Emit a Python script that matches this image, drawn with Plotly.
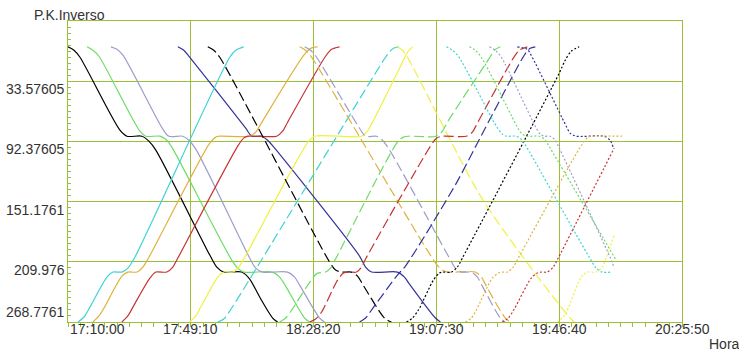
import plotly.graph_objects as go

DAY = "2000-01-01 "

X_TICKS = ["17:10:00", "17:49:10", "18:28:20", "19:07:30", "19:46:40", "20:25:50"]
Y_TICKS = [33.57605, 92.37605, 151.1761, 209.976, 268.7761]
Y_LABELS = ["33.57605", "92.37605", "151.1761", "209.976", "268.7761"]
Y_TOP = -25.22395

# ---- solid group ----
black_t = ["17:10:00", "17:11:55", "17:13:49", "17:26:34", "17:28:47", "17:33:34", "17:35:48", "17:38:01", "17:55:13", "17:57:27", "17:59:41", "18:05:24", "18:07:57", "18:11:08", "18:15:17", "18:16:52"]
black_pk = [0, 3.3, 10.2, 81.4, 87.3, 87.3, 92.1, 100.9, 203.4, 215.1, 220, 220, 226.8, 244.4, 264.9, 268.78]

green_t = ["17:16:03", "17:17:58", "17:19:52", "17:32:56", "17:34:50", "17:39:18", "17:41:31", "17:43:07", "18:02:13", "18:04:08", "18:06:03", "18:15:17", "18:17:30", "18:19:25", "18:25:28", "18:27:04"]
green_pk = [0, 3.3, 9.2, 82.4, 87.3, 87.3, 91.2, 98.0, 208.3, 216.1, 220, 220, 224.9, 233.7, 264.9, 268.78]

lav_t = ["17:23:42", "17:25:36", "17:27:31", "17:40:15", "17:42:10", "17:46:37", "17:48:32", "17:50:46", "18:07:57", "18:09:52", "18:12:06", "18:20:03", "18:22:17", "18:23:53", "18:30:15", "18:31:50"]
lav_pk = [0, 2.4, 8.2, 80.4, 87.3, 87.3, 91.2, 99.9, 206.3, 216.1, 220, 220, 224.9, 232.7, 264.9, 268.78]

navy_t = ["17:45:02", "17:46:56", "17:48:51", "18:06:41", "18:08:36", "18:11:47", "18:13:41", "18:15:55", "18:42:59", "18:44:54", "18:46:48", "18:55:05", "18:57:19", "18:58:54", "19:07:11", "19:08:47"]
navy_pk = [0, 3.3, 10.2, 79.5, 87.3, 87.3, 91.2, 99.0, 204.4, 215.1, 220, 220, 224.9, 231.7, 264.9, 268.78]

blackd_t = ["17:54:35", "17:56:30", "17:58:24", "18:33:26", "18:35:20", "18:37:15", "18:40:26", "18:42:21", "18:43:56", "18:50:57", "18:53:10"]
blackd_pk = [0, 3.3, 10.2, 210.2, 218.0, 220, 220, 223.9, 231.7, 264.9, 268.78]

cyan_t = ["17:13:11", "17:15:06", "17:17:00", "17:22:25", "17:24:20", "17:27:12", "17:29:06", "17:31:01", "18:01:35", "18:03:30", "18:06:03"]
cyan_pk = [268.78, 263.9, 254.2, 224.9, 220, 220, 216.1, 207.3, 10.2, 3.3, 0]

gold_t = ["17:17:58", "17:19:52", "17:21:28", "17:27:12", "17:29:06", "17:31:58", "17:33:53", "17:35:29", "17:55:13", "17:57:08", "17:58:24", "18:07:57", "18:09:52", "18:11:28", "18:25:28", "18:27:42", "18:29:37"]
gold_pk = [268.78, 262.9, 255.2, 223.9, 220, 220, 215.1, 207.3, 94.1, 88.2, 87.3, 87.3, 83.4, 75.5, 7.2, 1.0, 0]

red_t = ["17:27:12", "17:29:06", "17:30:42", "17:36:07", "17:38:01", "17:41:31", "17:43:26", "17:45:02", "18:04:08", "18:06:03", "18:07:19", "18:16:33", "18:18:28", "18:20:03", "18:32:09", "18:34:04", "18:36:37"]
red_pk = [268.78, 262.9, 254.2, 225.9, 220, 220, 215.1, 206.3, 97.0, 89.2, 87.3, 87.3, 82.4, 73.6, 9.2, 2.4, 0]

yellow_t = ["17:48:51", "17:50:46", "17:52:21", "17:57:46", "17:59:41", "18:02:33", "18:04:27", "18:06:03", "18:26:45", "18:28:39", "18:43:37", "18:45:32", "18:47:07", "18:56:41", "18:58:16", "18:59:52"]
yellow_pk = [268.78, 262.9, 254.2, 224.9, 220, 220, 215.1, 207.3, 92.1, 87.3, 87.3, 82.4, 73.6, 15.0, 5.3, 0]

# ---- dashed group ----
cyand_t = ["17:57:46", "17:59:41", "18:01:35", "18:50:38", "18:52:13", "18:53:49", "18:55:43"]
cyand_pk = [268.78, 265.9, 258.1, 13.1, 6.2, 1.4, 0]

goldd_t = ["18:23:53", "18:25:47", "18:27:42", "19:07:30", "19:09:25", "19:11:00", "19:19:55", "19:21:50", "19:23:25", "19:29:28", "19:31:04"]
goldd_pk = [0, 3.3, 10.2, 212.2, 218.0, 220, 220, 224.9, 233.7, 264.9, 268.78]

lavd_t = ["18:25:28", "18:27:23", "18:29:17", "18:42:59", "18:44:54", "18:48:24", "18:50:18", "18:52:13", "19:11:39", "19:13:33", "19:15:28", "19:18:39", "19:20:34", "19:22:09", "19:27:53", "19:29:28"]
lavd_pk = [0, 3.3, 10.2, 79.5, 87.3, 87.3, 91.2, 99.0, 206.3, 216.1, 220, 220, 224.9, 233.7, 264.9, 268.78]

yellowd_t = ["18:55:05", "18:56:41", "18:58:16", "19:21:12", "19:33:56", "19:49:51", "19:51:27"]
yellowd_pk = [0, 3.3, 10.2, 143.9, 200.5, 263.9, 268.78]

greend_t = ["18:17:30", "18:19:25", "18:21:20", "18:28:01", "18:29:37", "18:32:09", "18:33:45", "18:35:20", "18:55:05", "18:57:00", "18:58:54", "19:07:30", "19:09:25", "19:11:00", "19:24:23", "19:25:58", "19:27:53"]
greend_pk = [268.78, 264.9, 257.1, 225.9, 221.0, 220, 216.1, 207.3, 93.1, 88.2, 87.3, 87.3, 82.4, 73.6, 11.1, 3.3, 0]

redd_t = ["18:27:04", "18:28:58", "18:30:53", "18:35:59", "18:37:53", "18:39:48", "18:42:02", "18:43:37", "18:44:54", "19:05:36", "19:07:30", "19:09:25", "19:17:03", "19:18:58", "19:20:33", "19:32:01", "19:33:56", "19:36:29"]
redd_pk = [268.78, 265.9, 259.0, 227.8, 221.0, 220, 220, 215.1, 207.3, 97.0, 89.2, 87.3, 87.3, 83.4, 74.6, 11.1, 3.3, 0]

navyd_t = ["18:42:59", "18:44:54", "18:46:48", "18:55:05", "18:57:38", "19:13:52", "19:20:33", "19:34:34", "19:36:10", "19:37:26", "19:39:02"]
navyd_pk = [268.78, 264.9, 257.1, 222.9, 214.1, 133.1, 94.1, 13.1, 5.3, 1.4, 0]

# ---- dotted group ----
blackdot_t = ["18:57:57", "18:59:52", "19:01:46", "19:06:33", "19:08:27", "19:09:44", "19:12:17", "19:14:11", "19:15:47", "19:46:40", "19:48:35", "19:50:29", "19:53:02"]
blackdot_pk = [268.78, 264.9, 257.1, 227.8, 221.0, 220, 220, 215.1, 206.3, 25.8, 13.1, 4.3, 0]

cyandot_t = ["19:10:41", "19:12:36", "19:14:30", "19:26:37", "19:28:31", "19:29:48", "19:32:59", "19:34:53", "19:36:29", "19:56:13", "19:58:27", "20:00:22", "20:03:33"]
cyandot_pk = [0, 3.3, 9.2, 77.5, 85.3, 87.3, 87.3, 91.2, 99.0, 205.4, 216.1, 220, 220]

greendot_t = ["19:18:01", "19:19:55", "19:21:50", "19:32:40", "19:34:34", "19:36:10", "19:40:18", "19:42:13", "19:43:48", "20:04:49"]
greendot_pk = [0, 3.3, 10.2, 74.6, 84.3, 87.3, 87.3, 91.2, 99.0, 208.3]

lavdot_t = ["19:24:23", "19:26:17", "19:28:12", "19:39:02", "19:40:37", "19:41:54", "19:43:48", "19:45:24", "19:46:59", "20:03:33", "20:04:11"]
lavdot_pk = [0, 3.3, 10.2, 77.5, 85.3, 87.3, 87.3, 91.2, 100.9, 210.2, 216.1]

navydot_t = ["19:33:18", "19:36:29", "19:38:04", "19:48:35", "19:50:10", "19:52:05", "20:01:00", "20:02:55", "20:03:52"]
navydot_pk = [0, 2.4, 10.2, 75.5, 84.3, 87.3, 87.3, 91.2, 98.0]

reddot_t = ["19:28:31", "19:30:26", "19:32:20", "19:37:45", "19:39:40", "19:40:56", "19:42:51", "19:44:46", "19:46:21", "20:04:11"]
reddot_pk = [268.78, 264.9, 256.1, 225.9, 221.0, 220, 220, 215.1, 206.3, 99.0]

yellowdot_t = ["19:46:02", "19:47:57", "19:49:32", "19:53:41", "19:55:35", "19:58:27", "20:00:22", "20:01:38", "20:04:11"]
yellowdot_pk = [268.78, 263.9, 255.2, 224.9, 220, 220, 215.1, 206.3, 183.9]

golddot_t = ["19:16:44", "19:18:39", "19:20:14", "19:25:20", "19:27:15", "19:28:31", "19:30:07", "19:32:01", "19:33:37", "19:54:00", "19:55:54", "19:57:11", "20:06:44"]
golddot_pk = [268.78, 264.9, 257.1, 225.9, 221.0, 220, 220, 215.1, 206.3, 95.1, 88.2, 87.3, 87.3]

BLACK = "#000000"
GREEN = "#6ddc66"
LAV = "#9d9dcc"
NAVY = "#333399"
CYAN = "#3fd3d3"
GOLD = "#e0b23c"
RED = "#c63333"
YELLOW = "#f0f040"
GRID = "#9cbf3a"

SOLID = "solid"
DASH = "10px,4px"
DOT = "2px,2px"

trains = [
    (black_t, black_pk, BLACK, SOLID),
    (green_t, green_pk, GREEN, SOLID),
    (lav_t, lav_pk, LAV, SOLID),
    (navy_t, navy_pk, NAVY, SOLID),
    (cyan_t, cyan_pk, CYAN, SOLID),
    (gold_t, gold_pk, GOLD, SOLID),
    (red_t, red_pk, RED, SOLID),
    (yellow_t, yellow_pk, YELLOW, SOLID),
    (blackd_t, blackd_pk, BLACK, DASH),
    (cyand_t, cyand_pk, CYAN, DASH),
    (goldd_t, goldd_pk, GOLD, DASH),
    (lavd_t, lavd_pk, LAV, DASH),
    (yellowd_t, yellowd_pk, YELLOW, DASH),
    (greend_t, greend_pk, GREEN, DASH),
    (redd_t, redd_pk, RED, DASH),
    (navyd_t, navyd_pk, NAVY, DASH),
    (blackdot_t, blackdot_pk, BLACK, DOT),
    (cyandot_t, cyandot_pk, CYAN, DOT),
    (greendot_t, greendot_pk, GREEN, DOT),
    (lavdot_t, lavdot_pk, LAV, DOT),
    (navydot_t, navydot_pk, NAVY, DOT),
    (reddot_t, reddot_pk, RED, DOT),
    (yellowdot_t, yellowdot_pk, YELLOW, DOT),
    (golddot_t, golddot_pk, GOLD, DOT),
]

fig = go.Figure()
for t, pk, col, dash in trains:
    fig.add_trace(go.Scatter(
        x=[DAY + s for s in t], y=pk, mode="lines",
        line=dict(color=col, width=1.2, dash=dash, shape="spline", smoothing=0.8),
        showlegend=False, hoverinfo="skip",
    ))

FONT = "Liberation Sans, Arial, sans-serif"
TXT = "#333333"

annotations = []
for i, lab in enumerate(X_TICKS):
    annotations.append(dict(
        x=DAY + lab, y=0, xref="x", yref="paper", text=lab, showarrow=False,
        xanchor="left" if i == 0 else "center", yanchor="top", yshift=3,
        font=dict(family=FONT, size=14, color=TXT),
    ))
for i, (v, lab) in enumerate(zip(Y_TICKS, Y_LABELS)):
    last = i == len(Y_TICKS) - 1
    annotations.append(dict(
        x=0, y=v, xref="paper", yref="y", text=lab, showarrow=False,
        xanchor="right", yanchor="bottom" if last else "top", xshift=-1,
        yshift=0 if last else 2,
        font=dict(family=FONT, size=14, color=TXT),
    ))
annotations.append(dict(x=0, y=1, xref="paper", yref="paper", text="P.K.Inverso",
                        showarrow=False, xanchor="left", yanchor="middle",
                        xshift=-36, yshift=6, font=dict(family=FONT, size=14, color=TXT)))
annotations.append(dict(x=1, y=0, xref="paper", yref="paper", text="Hora",
                        showarrow=False, xanchor="left", yanchor="middle",
                        xshift=25, yshift=-22, font=dict(family=FONT, size=14, color=TXT)))

fig.update_layout(
    width=739, height=353,
    margin=dict(l=68, r=57, t=21, b=31),
    paper_bgcolor="white", plot_bgcolor="white",
    annotations=annotations,
    xaxis=dict(
        type="date",
        range=[DAY + X_TICKS[0], DAY + X_TICKS[-1]],
        tick0=DAY + X_TICKS[0], dtick=2350000,
        showticklabels=False,
        showgrid=True, gridcolor=GRID, gridwidth=1,
        showline=True, linecolor=GRID, linewidth=1, mirror=True,
        ticks="outside", ticklen=4, tickcolor=GRID,
        minor=dict(dtick=235000, tick0=DAY + X_TICKS[0], ticks="outside", ticklen=4,
                   tickcolor=GRID, showgrid=False),
        zeroline=False,
    ),
    yaxis=dict(
        range=[Y_TICKS[-1], Y_TOP],
        tickmode="array", tickvals=Y_TICKS,
        showticklabels=False,
        showgrid=True, gridcolor=GRID, gridwidth=1,
        showline=True, linecolor=GRID, linewidth=1, mirror=True,
        ticks="inside", ticklen=3, tickcolor=GRID,
        minor=dict(dtick=5.88, tick0=Y_TICKS[0], ticks="inside", ticklen=3,
                   tickcolor=GRID, showgrid=False),
        zeroline=False,
    ),
)

# remove the page's default 8px body margin so the figure sits at the window's top-left corner
fig.write_html("out.html", config={"displayModeBar": False},
               post_script="document.body.style.margin='0px';")
